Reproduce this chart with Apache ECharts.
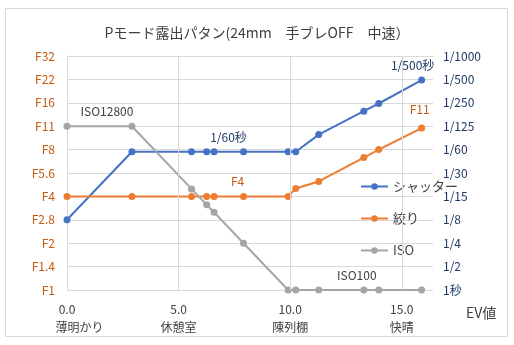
<!DOCTYPE html>
<html>
<head>
<meta charset="utf-8">
<script src="https://cdn.jsdelivr.net/npm/echarts@6/dist/echarts.min.js"></script>
<style>html,body{margin:0;padding:0;background:#fff;}#c{width:514px;height:345px;}</style>
</head>
<body>
<div id="c"></div>
<script>
// EV values of each point
var ev = [0, 2.91, 5.58, 6.26, 6.59, 7.91, 9.91, 10.25, 11.28, 13.3, 13.97, 15.89];
// values in stops (0 = F1 / 1秒 / ISO100)
var shutter = [3, 5.91, 5.91, 5.91, 5.91, 5.91, 5.91, 5.91, 6.64, 7.64, 7.97, 8.97];
var aperture = [4, 4, 4, 4, 4, 4, 4, 4.34, 4.64, 5.66, 6, 6.92];
var iso = [7, 7, 4.32, 3.64, 3.32, 2, 0, 0, 0, 0, 0, 0];
var leftTicks = ['F1', 'F1.4', 'F2', 'F2.8', 'F4', 'F5.6', 'F8', 'F11', 'F16', 'F22', 'F32'];
var rightTicks = ['1秒', '1/2', '1/4', '1/8', '1/15', '1/30', '1/60', '1/125', '1/250', '1/500', '1/1000'];
var xTicks = [0, 5, 10, 15];
var xNames = ['薄明かり', '休憩室', '陳列棚', '快晴'];
var seriesNames = ['シャッター', '絞り', 'ISO'];

var FONT = '"Noto Sans CJK JP", sans-serif';

function pairs(ys, labels) {
  return ev.map(function (x, i) {
    var item = { value: [x, ys[i]] };
    if (labels[i]) {
      item.label = Object.assign({ show: true, position: 'top', fontFamily: FONT, fontSize: 12 }, labels[i]);
    }
    return item;
  });
}

var chart = echarts.init(document.getElementById('c'));
chart.setOption({
  animation: false,
  textStyle: { fontFamily: FONT },
  title: {
    text: 'Pモード露出パタン(24mm\u3000手ブレOFF\u3000中速）',
    left: 'center', top: 21,
    textStyle: { fontFamily: FONT, fontSize: 14, fontWeight: 'normal', color: '#404040' }
  },
  graphic: [{
    type: 'rect', shape: { x: 5.5, y: 8.5, width: 502, height: 328 },
    style: { fill: 'none', stroke: '#d9d9d9', lineWidth: 1 }, silent: true, z: -10
  }, {
    type: 'text', left: 466, top: 306,
    style: { text: 'EV値', font: '14px ' + FONT, fill: '#404040' }
  }],
  legend: {
    orient: 'vertical', left: 355, top: 175,
    itemWidth: 27, itemHeight: 8, itemGap: 19,
    textStyle: { fontFamily: FONT, fontSize: 13, color: '#404040' },
    data: seriesNames
  },
  grid: { left: 67, right: 81, top: 56, bottom: 55 },
  xAxis: {
    type: 'value', min: 0, max: 16.4, interval: 5,
    axisLine: { show: false }, axisTick: { show: false },
    splitLine: { show: false },
    axisLabel: {
      showMaxLabel: false, margin: 10, lineHeight: 18,
      color: '#404040', fontSize: 12, fontFamily: FONT,
      formatter: function (v) {
        var k = xTicks.indexOf(v);
        if (k < 0) return '';
        if (k === 0) return '{n|' + v.toFixed(1) + '}\n{f|' + xNames[k] + '}';
        return '{n|' + v.toFixed(1) + '}\n{n|' + xNames[k] + '}';
      },
      rich: {
        n: { fontSize: 12, fontFamily: FONT, color: '#404040', lineHeight: 18 },
        f: { fontSize: 12, fontFamily: FONT, color: '#404040', lineHeight: 18, padding: [0, 0, 0, 25] }
      }
    }
  },
  yAxis: [{
    type: 'value', min: 0, max: 10, interval: 1,
    axisLine: { show: true, lineStyle: { color: '#d9d9d9' } },
    axisTick: { show: false },
    splitLine: { lineStyle: { color: '#d9d9d9' } },
    axisLabel: { color: '#c55a11', fontSize: 12, margin: 12, fontFamily: FONT,
      formatter: function (v) { return leftTicks[v]; } }
  }, {
    type: 'value', min: 0, max: 10, interval: 1, position: 'right',
    axisLine: { show: false }, axisTick: { show: false }, splitLine: { show: false },
    axisLabel: { color: '#203864', fontSize: 12, margin: 10, fontFamily: FONT,
      formatter: function (v) { return rightTicks[v]; } }
  }],
  series: [{
    type: 'line', data: [], silent: true, z: 0,
    markLine: {
      silent: true, symbol: 'none', label: { show: false },
      lineStyle: { color: '#d9d9d9', width: 1, type: 'solid' },
      data: [{ xAxis: 5 }, { xAxis: 10 }, { xAxis: 15 }]
    }
  }, {
    name: seriesNames[0], type: 'line', symbol: 'circle', symbolSize: 7,
    itemStyle: { color: '#4472c4' }, lineStyle: { color: '#4472c4', width: 2 },
    data: pairs(shutter, { 5: { formatter: '1/60秒', offset: [-15, 0], color: '#203864' },
                          11: { formatter: '1/500秒', offset: [-9, 0], color: '#203864' } })
  }, {
    name: seriesNames[1], type: 'line', symbol: 'circle', symbolSize: 7,
    itemStyle: { color: '#ed7d31' }, lineStyle: { color: '#ed7d31', width: 2 },
    data: pairs(aperture, { 5: { formatter: 'F4', offset: [-6, 0], color: '#c55a11' },
                           11: { formatter: 'F11', offset: [-2, -4], color: '#c55a11' } })
  }, {
    name: seriesNames[2], type: 'line', symbol: 'circle', symbolSize: 7,
    itemStyle: { color: '#a5a5a5' }, lineStyle: { color: '#a5a5a5', width: 2 },
    data: pairs(iso, { 1: { formatter: 'ISO12800', offset: [-25, 0], color: '#404040' },
                      9: { formatter: 'ISO100', offset: [-7, 0], color: '#404040' } })
  }]
});
</script>
</body>
</html>
